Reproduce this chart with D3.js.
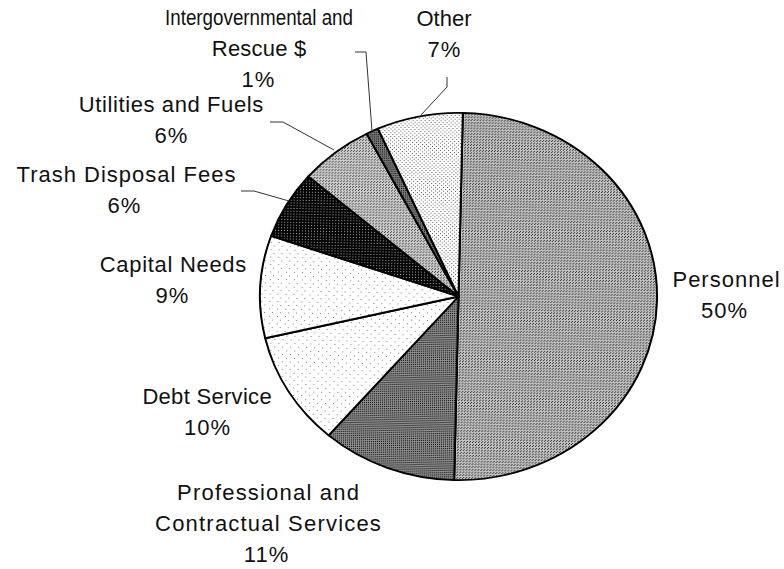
<!DOCTYPE html>
<html>
<head>
<meta charset="utf-8">
<script src="https://cdn.jsdelivr.net/npm/d3@7"></script>
<style>
  html, body { margin: 0; padding: 0; background: #ffffff; }
  svg { display: block; }
  text { font-family: "Liberation Sans", Arial, sans-serif; fill: #111; }
</style>
</head>
<body>
<svg id="chart" width="784" height="569"></svg>
<script>
// Budget share by expense category (percent of total)
const categories = [
  "Personnel",
  "Professional and Contractual Services",
  "Debt Service",
  "Capital Needs",
  "Trash Disposal Fees",
  "Utilities and Fuels",
  "Intergovernmental and Rescue $",
  "Other"
];
const shares = [50, 11, 10, 9, 6, 6, 1, 7];

// How each category name wraps onto lines
const labelLines = [
  ["Personnel"],
  ["Professional and", "Contractual Services"],
  ["Debt Service"],
  ["Capital Needs"],
  ["Trash Disposal Fees"],
  ["Utilities and Fuels"],
  ["Intergovernmental and", "Rescue $"],
  ["Other"]
];

// Label placement: centre x of the name, first baseline, centre x of the percentage,
// letter spacing, and an optional fitted width for the first line
const labelLayout = [
  { x: 726, y: 287, px: 724, spacing: 1.0 },
  { x: 268, y: 500, px: 266, spacing: 1.2 },
  { x: 207, y: 404, px: 207, spacing: 0.3 },
  { x: 173, y: 272, px: 172, spacing: 0.7 },
  { x: 126, y: 182, px: 124, spacing: 1.0 },
  { x: 171, y: 112, px: 171, spacing: 0.6 },
  { x: 259, y: 25,  px: 258, spacing: 0.2, fit: 188 },
  { x: 444, y: 26,  px: 444, spacing: 0.0 }
];

// Leader lines from a label to its slice (label end, elbow, slice edge)
const leaders = [
  { i: 4, pts: [[241, 191], [254, 191], [289, 201]] },
  { i: 5, pts: [[270, 122], [283, 122], [334, 150]] },
  { i: 6, pts: [[355, 52], [366, 52], [372, 131]] },
  { i: 7, pts: [[447, 77], [447, 87], [421, 115]] }
];

const svg = d3.select("#chart");
const defs = svg.append("defs");

// Halftone-style fills, one per slice
function dotPattern(id, size, bg, dots, dotColor) {
  const p = defs.append("pattern")
    .attr("id", id)
    .attr("patternUnits", "userSpaceOnUse")
    .attr("width", size).attr("height", size);
  p.append("rect").attr("width", size).attr("height", size).attr("fill", bg);
  dots.forEach(([x, y]) => {
    p.append("rect").attr("x", x).attr("y", y).attr("width", 1).attr("height", 1).attr("fill", dotColor);
  });
  return `url(#${id})`;
}

const fills = [
  dotPattern("f-personnel", 3, "#c4c4c4", [[0, 0], [2, 1]], "#222"),
  dotPattern("f-prof", 2, "#8c8c8c", [[0, 0]], "#111"),
  dotPattern("f-debt", 8, "#ffffff", [[1, 2], [5, 6]], "#777"),
  dotPattern("f-capital", 8, "#ffffff", [[3, 1], [6, 5]], "#777"),
  dotPattern("f-trash", 3, "#050505", [[1, 1]], "#aaaaaa"),
  dotPattern("f-util", 3, "#d0d0d0", [[0, 0], [2, 1]], "#333"),
  dotPattern("f-inter", 2, "#7a7a7a", [[0, 0]], "#111"),
  dotPattern("f-other", 4, "#ffffff", [[0, 0], [2, 2]], "#555")
];

// Geometry of the pie (drawn as a slightly flattened, slightly turned disc)
const cx = 458.5, cy = 296.5, radius = 198.5, squash = 0.925, turnDeg = 1.25;

const pie = d3.pie()
  .sort(null)
  .value(d => d)
  .startAngle(0)
  .endAngle(2 * Math.PI);

const arc = d3.arc().innerRadius(0).outerRadius(radius);

const g = svg.append("g")
  .attr("transform", `translate(${cx},${cy}) scale(1,${squash}) rotate(${turnDeg})`);

g.selectAll("path.slice")
  .data(pie(shares))
  .join("path")
  .attr("class", "slice")
  .attr("d", arc)
  .attr("fill", (d, i) => fills[i])
  .attr("stroke", "#000")
  .attr("stroke-width", 2)
  .attr("stroke-linejoin", "round");

// Leader lines
const line = d3.line();
svg.selectAll("path.leader")
  .data(leaders)
  .join("path")
  .attr("class", "leader")
  .attr("d", d => line(d.pts))
  .attr("fill", "none")
  .attr("stroke", "#333")
  .attr("stroke-width", 1);

// Category labels with their percentages
const lineStep = 31;
const fontSize = 22;
const labels = svg.selectAll("g.label")
  .data(categories.map((c, i) => ({ c, i })))
  .join("g")
  .attr("class", "label");

labels.each(function (d) {
  const sel = d3.select(this);
  const lay = labelLayout[d.i];
  const lines = labelLines[d.i];
  lines.forEach((t, k) => {
    const txt = sel.append("text")
      .attr("x", lay.x + lay.spacing / 2)
      .attr("y", lay.y + k * lineStep)
      .attr("text-anchor", "middle")
      .attr("font-size", fontSize)
      .attr("letter-spacing", lay.spacing)
      .text(t);
    if (k === 0 && lay.fit) {
      txt.attr("letter-spacing", 0)
        .attr("x", lay.x)
        .attr("textLength", lay.fit)
        .attr("lengthAdjust", "spacingAndGlyphs");
    }
  });
  sel.append("text")
    .attr("x", lay.px + 0.5)
    .attr("y", lay.y + lines.length * lineStep)
    .attr("text-anchor", "middle")
    .attr("font-size", fontSize)
    .attr("letter-spacing", 1)
    .text(shares[d.i] + "%");
});
</script>
</body>
</html>
